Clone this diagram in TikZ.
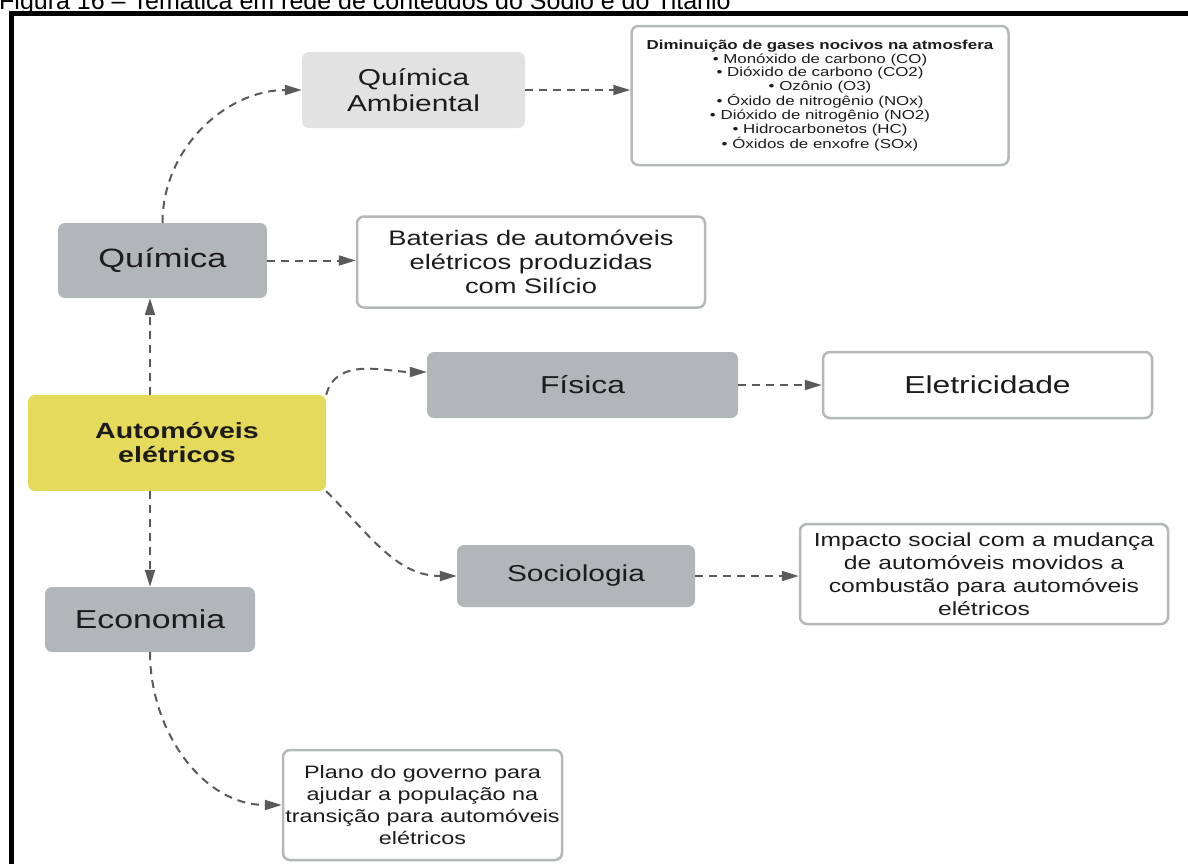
\documentclass[tikz,border=0pt]{standalone}
\usepackage{fontspec}
\setmainfont{Liberation Sans}[FakeStretch=1.3]
\newfontfamily\capfont{Liberation Sans}
\usetikzlibrary{arrows.meta}

\definecolor{boxgray}{HTML}{B1B6B8}
\definecolor{lightbox}{HTML}{E2E2E2}
\definecolor{hubyellow}{HTML}{E6DA5C}
\definecolor{edgegray}{HTML}{B4B8B8}
\definecolor{linkgray}{HTML}{5A5A5A}
\definecolor{ink}{HTML}{1C1C1C}

\newcommand{\fsz}[2]{\fontsize{#1}{#2}\selectfont}

\tikzset{
  box/.style={rounded corners=7pt, align=center, text=ink, inner sep=0pt},
  darkbox/.style={box, fill=boxgray},
  lightbox/.style={box, fill=lightbox},
  plainbox/.style={box, fill=white, draw=edgegray, line width=2.5pt},
  hubbox/.style={box, fill=hubyellow},
  link/.style={draw=linkgray, line width=2pt, dash pattern=on 8pt off 6pt,
    -{Triangle[length=17pt,width=10pt]}},
}

\begin{document}
\begin{tikzpicture}[x=1pt,y=-1pt]
\useasboundingbox (0,0) rectangle (1188,863);
\clip (0,0) rectangle (1188,863);
\fill[white] (0,0) rectangle (1188,863);

% caption (its upper part lies above the page edge) and frame
\node[anchor=base west, inner sep=0pt, font=\capfont\fsz{25}{26}] (cap) at (-1,9.5)
  {Figura 16 – Temática em rede de conteúdos do Sódio e do Titânio};
\draw[line width=4.5pt] (11.5,870) -- (11.5,13.5) -- (1195,13.5);

% nodes
\node[darkbox, minimum width=209pt, minimum height=75pt, font=\fsz{26.5}{30}] (q) at (162.5,260.5) {Química};
\node[lightbox, minimum width=223pt, minimum height=76pt, font=\fsz{23}{26}] (qa) at (413.5,90) {Química\\Ambiental};
\node[plainbox, minimum width=377pt, minimum height=139pt, font=\fsz{13}{13.9}] (gas) at (820,95.5)
  {\textbf{Diminuição de gases nocivos na atmosfera}\\
   • Monóxido de carbono (CO)\\
   • Dióxido de carbono (CO2)\\
   • Ozônio (O3)\\
   • Óxido de nitrogênio (NOx)\\
   • Dióxido de nitrogênio (NO2)\\
   • Hidrocarbonetos (HC)\\
   • Óxidos de enxofre (SOx)};
\node[plainbox, minimum width=348pt, minimum height=91pt, font=\fsz{21}{24}] (bat) at (531,262)
  {Baterias de automóveis\\elétricos produzidas\\com Silício};
\node[hubbox, minimum width=298pt, minimum height=96pt, font=\bfseries\fsz{22}{24}] (auto) at (177,443)
  {Automóveis\\elétricos};
\node[darkbox, minimum width=311pt, minimum height=66pt, font=\fsz{24.5}{27}] (fis) at (582.5,385) {Física};
\node[plainbox, minimum width=329pt, minimum height=66pt, font=\fsz{24.5}{27}] (ele) at (987.5,385) {Eletricidade};
\node[darkbox, minimum width=238pt, minimum height=62pt, font=\fsz{23}{26}] (soc) at (576,576) {Sociologia};
\node[plainbox, minimum width=368pt, minimum height=100pt, font=\fsz{19}{23}] (imp) at (984,574)
  {Impacto social com a mudança\\de automóveis movidos a\\combustão para automóveis\\elétricos};
\node[darkbox, minimum width=210pt, minimum height=65pt, font=\fsz{26}{30}] (econ) at (150,619.5) {Economia};
\node[plainbox, minimum width=279pt, minimum height=110pt, font=\fsz{18}{22}] (plan) at (422.5,805)
  {Plano do governo para\\ajudar a população na\\transição para automóveis\\elétricos};

% connectors
\draw[link] (q.north) to[out=90,in=180] (qa.west);
\draw[link] (qa.east) -- (gas.west |- qa.east);
\draw[link] (q.east) -- (bat.west |- q.east);
\draw[link] (econ.north |- auto.north) -- (econ.north |- q.south);
\draw[link] (econ.north |- auto.south) -- (econ.north);
\coordinate (fisin) at ([yshift=13pt]fis.west);
\draw[link] (auto.north east) to[out=75,in=180] (fisin);
\draw[link] (fis.east) -- (ele.west);
\draw[link] (auto.south east) to[out=-45,in=180] (soc.west);
\draw[link] (soc.east) -- (imp.west |- soc.east);
\draw[link] (econ.south) to[out=-90,in=180] (plan.west);
\end{tikzpicture}
\end{document}
